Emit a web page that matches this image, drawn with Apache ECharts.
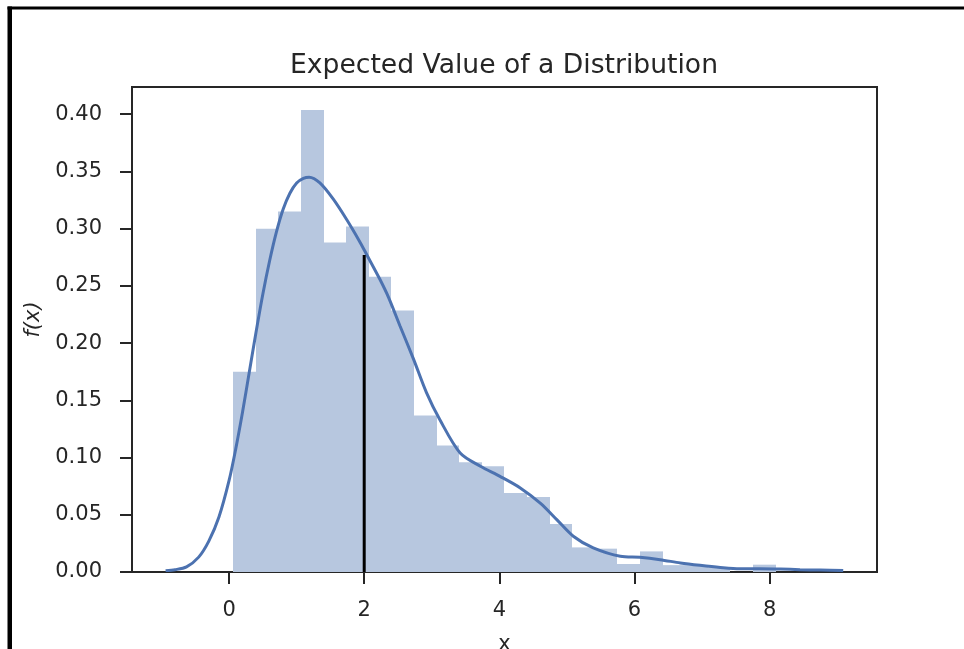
<!DOCTYPE html>
<html>
<head>
<meta charset="utf-8">
<script src="https://cdn.jsdelivr.net/npm/echarts@6/dist/echarts.min.js"></script>
<style>
  html, body { margin: 0; padding: 0; background: #ffffff; }
  #chart { width: 964px; height: 649px; }
</style>
</head>
<body>
<div id="chart"></div>
<script>
// Histogram bin edges (25 edges -> 24 bins) and normalised densities
const binEdges = [0.060, 0.395, 0.729, 1.064, 1.398, 1.733, 2.068, 2.402, 2.737,
                  3.071, 3.406, 3.741, 4.075, 4.410, 4.744, 5.079, 5.414, 5.748,
                  6.083, 6.417, 6.752, 7.087, 7.421, 7.756, 8.090];
const density = [0.175, 0.300, 0.315, 0.4036, 0.288, 0.302, 0.258, 0.2286,
                 0.1368, 0.1105, 0.0959, 0.0924, 0.0691, 0.0656, 0.042, 0.0215,
                 0.0204, 0.007, 0.018, 0.006, 0.006, 0.004, 0.0, 0.0064];

// Kernel density estimate curve
const kdeX = [-0.94, -0.80, -0.63, -0.45, -0.30, -0.15, 0.00, 0.10, 0.20, 0.30,
              0.40, 0.50, 0.60, 0.70, 0.80, 0.90, 1.00, 1.10, 1.185, 1.344,
              1.54, 1.74, 1.94, 2.04, 2.23, 2.36, 2.53, 2.73, 2.92, 3.12,
              3.42, 3.72, 4.01, 4.31, 4.61, 4.85, 5.10, 5.39, 5.79, 6.08,
              6.38, 6.68, 6.97, 7.27, 7.56, 7.86, 8.16, 8.45, 8.75, 9.09];
const kdeY = [0.0012, 0.002, 0.0045, 0.013, 0.027, 0.048, 0.080, 0.108, 0.140, 0.175,
              0.210, 0.243, 0.272, 0.297, 0.317, 0.331, 0.340, 0.344, 0.345, 0.340,
              0.326, 0.308, 0.288, 0.277, 0.256, 0.240, 0.215, 0.186, 0.157, 0.133,
              0.104, 0.0924, 0.0836, 0.0735, 0.060, 0.0458, 0.031, 0.021, 0.0137, 0.0128,
              0.0108, 0.0079, 0.0058, 0.004, 0.0029, 0.0029, 0.0026, 0.002, 0.0017, 0.0013];

// Expected value marker
const meanX = 2.0;
const meanDensity = 0.277;

// Tick positions
const xTicks = [0, 2, 4, 6, 8];
const yTicks = [0, 0.05, 0.10, 0.15, 0.20, 0.25, 0.30, 0.35, 0.40];

const ink = '#262626';
const font = 'DejaVu Sans';

const chart = echarts.init(document.getElementById('chart'), null, { renderer: 'canvas' });

chart.setOption({
  animation: false,
  backgroundColor: '#ffffff',
  title: {
    text: 'Expected Value of a Distribution',
    left: 504,
    textAlign: 'center',
    top: 53,
    padding: 0,
    textStyle: { fontFamily: font, fontSize: 26.6, fontWeight: 'normal', color: ink }
  },
  grid: {
    left: 132, right: 87, top: 87, bottom: 77,
    outerBoundsMode: 'none',
    containLabel: false,
    show: true, borderColor: ink, borderWidth: 2, backgroundColor: 'transparent'
  },
  xAxis: {
    type: 'value',
    min: -1.437, max: 9.59,
    name: 'x',
    nameLocation: 'middle',
    nameGap: 62,
    nameTextStyle: { fontFamily: font, fontSize: 21, color: ink },
    axisLine: { show: true, onZero: false, lineStyle: { color: ink, width: 2 } },
    axisTick: { show: true, customValues: xTicks, length: 12, lineStyle: { color: ink, width: 2 } },
    axisLabel: {
      customValues: xTicks, margin: 28,
      fontFamily: font, fontSize: 21, color: ink,
      formatter: v => String(Math.round(v))
    },
    splitLine: { show: false }
  },
  yAxis: {
    type: 'value',
    min: 0, max: 0.4238,
    name: 'f(x)',
    nameLocation: 'middle',
    nameGap: 88,
    nameRotate: 90,
    nameTextStyle: { fontFamily: font, fontSize: 21, fontStyle: 'italic', color: ink, padding: [0, 0, 0, 20] },
    axisLine: { show: true, onZero: false, lineStyle: { color: ink, width: 2 } },
    axisTick: { show: true, customValues: yTicks, length: 12, lineStyle: { color: ink, width: 2 } },
    axisLabel: {
      customValues: yTicks, margin: 30,
      fontFamily: font, fontSize: 21, color: ink,
      formatter: v => v.toFixed(2)
    },
    splitLine: { show: false }
  },
  graphic: [
    // outer black frame (top and left edges)
    { type: 'rect', shape: { x: 7.5, y: 6.5, width: 957, height: 3 }, style: { fill: '#000' }, z: 100 },
    { type: 'rect', shape: { x: 7.5, y: 6.5, width: 4.5, height: 643 }, style: { fill: '#000' }, z: 100 }
  ],
  series: [
    {
      type: 'custom',
      name: 'histogram',
      clip: true,
      encode: { x: [0, 1], y: 2 },
      data: density.map((d, i) => [binEdges[i], binEdges[i + 1], d]),
      renderItem: function (params, api) {
        const topLeft = api.coord([api.value(0), api.value(2)]);
        const bottomRight = api.coord([api.value(1), 0]);
        const x0 = Math.round(topLeft[0]);
        const x1 = Math.round(bottomRight[0]);
        return {
          type: 'rect',
          shape: { x: x0, y: topLeft[1], width: x1 - x0, height: bottomRight[1] - topLeft[1] },
          style: { fill: 'rgb(183,199,223)' }
        };
      },
      z: 1
    },
    {
      type: 'line',
      name: 'kde',
      data: kdeX.map((x, i) => [x, kdeY[i]]),
      smooth: 0.3,
      symbol: 'none',
      lineStyle: { color: '#4C72B0', width: 3 },
      z: 3
    },
    {
      type: 'line',
      name: 'mean',
      data: [[meanX, 0], [meanX, meanDensity]],
      symbol: 'none',
      lineStyle: { color: '#000000', width: 3 },
      z: 4
    }
  ]
});
</script>
</body>
</html>
